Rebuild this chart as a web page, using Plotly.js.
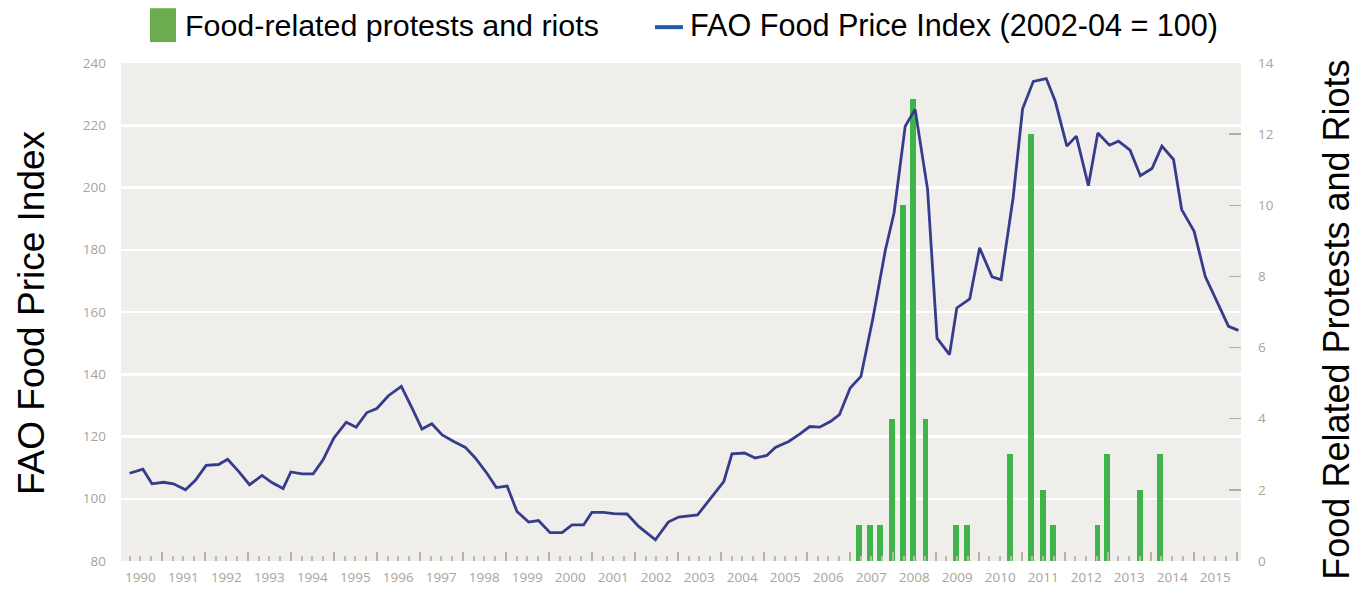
<!DOCTYPE html>
<html>
<head>
<meta charset="utf-8">
<script src="https://cdn.plot.ly/plotly-3.0.1.min.js"></script>
<style>
  html, body { margin: 0; padding: 0; background: #ffffff; }
  #chart { width: 1356px; height: 597px; }
</style>
</head>
<body>
<div id="chart"></div>
<script>
// ---- Data ----
// FAO Food Price Index (2002-04 = 100), dates as decimal years
const fpiDates = [
  1990.25, 1990.56, 1990.77, 1991.04, 1991.27, 1991.55, 1991.78, 1992.03, 1992.32, 1992.53,
  1992.79, 1993.04, 1993.33, 1993.56, 1993.82, 1994.00, 1994.26, 1994.52, 1994.75, 1995.00,
  1995.29, 1995.52, 1995.77, 1996.00, 1996.27, 1996.57, 1996.82, 1997.05, 1997.28, 1997.52,
  1997.79, 1998.06, 1998.29, 1998.56, 1998.78, 1999.03, 1999.26, 1999.53, 1999.76, 2000.03,
  2000.31, 2000.54, 2000.81, 2001.00, 2001.27, 2001.51, 2001.82, 2002.09, 2002.48, 2002.78,
  2003.02, 2003.46, 2003.74, 2004.07, 2004.26, 2004.55, 2004.80, 2005.07, 2005.27, 2005.58,
  2005.85, 2006.07, 2006.30, 2006.55, 2006.76, 2007.01, 2007.26, 2007.54, 2007.83, 2008.03,
  2008.29, 2008.52, 2008.81, 2009.03, 2009.32, 2009.49, 2009.79, 2010.02, 2010.31, 2010.52,
  2010.80, 2011.02, 2011.27, 2011.57, 2011.78, 2012.05, 2012.27, 2012.55, 2012.77, 2013.04,
  2013.25, 2013.52, 2013.76, 2014.03, 2014.26, 2014.53, 2014.72, 2015.01, 2015.27, 2015.54,
  2015.81, 2016.04
];
const fpiValues = [
  108.2, 109.5, 104.8, 105.3, 104.8, 102.9, 105.9, 110.7, 111.0, 112.7,
  108.7, 104.5, 107.5, 105.2, 103.3, 108.6, 108.0, 108.0, 112.5, 119.5,
  124.6, 123.0, 127.7, 129.0, 133.1, 136.1, 129.1, 122.4, 124.1, 120.5,
  118.4, 116.5, 113.1, 108.2, 103.6, 104.1, 95.9, 92.5, 93.0, 89.1,
  89.1, 91.6, 91.6, 95.6, 95.6, 95.2, 95.1, 91.1, 86.8, 92.5,
  94.1, 94.8, 99.7, 105.5, 114.4, 114.7, 113.1, 113.9, 116.5, 118.4,
  120.9, 123.2, 123.0, 124.8, 127.0, 135.6, 139.3, 158.1, 180.0, 191.8,
  219.7, 225.1, 199.4, 151.6, 146.3, 161.3, 164.2, 180.6, 171.3, 170.4,
  196.7, 225.3, 234.1, 235.0, 227.7, 213.3, 216.5, 200.6, 217.5, 213.6,
  214.9, 212.0, 203.8, 206.1, 213.3, 209.0, 192.9, 185.9, 171.4, 163.4,
  155.4, 154.1
];

// Food-related protests and riots (count per quarter)
const riotDates = [
  2007.22, 2007.48, 2007.71, 2007.99, 2008.24, 2008.48, 2008.76,
  2009.48, 2009.73, 2010.73, 2011.22, 2011.50, 2011.73,
  2012.76, 2012.99, 2013.76, 2014.22
];
const riotCounts = [1, 1, 1, 4, 10, 13, 4, 1, 1, 3, 12, 2, 1, 1, 3, 2, 3];

// Axis labels
const years = [1990, 1991, 1992, 1993, 1994, 1995, 1996, 1997, 1998, 1999, 2000, 2001, 2002,
               2003, 2004, 2005, 2006, 2007, 2008, 2009, 2010, 2011, 2012, 2013, 2014, 2015];
const leftTicks = [80, 100, 120, 140, 160, 180, 200, 220, 240];
const rightTicks = [0, 2, 4, 6, 8, 10, 12, 14];

const barName = 'Food-related protests and riots';
const lineName = 'FAO Food Price Index (2002-04 = 100)';
const leftTitle = 'FAO Food Price Index';
const rightTitle = 'Food Related Protests and Riots';

// ---- Styles ----
const barColor = '#3db54a';
const lineColor = '#363c8c';
const legendGreen = '#6aac4e';
const legendBlue = '#2459a6';
const tickFontColor = '#aaa39c';
const xRange = [1990.05, 2016.1];

const traces = [
  {
    type: 'bar',
    name: barName,
    x: riotDates,
    y: riotCounts,
    width: 0.135,
    marker: { color: barColor },
    xaxis: 'x',
    yaxis: 'y',
    showlegend: false,
    hoverinfo: 'x+y'
  },
  {
    type: 'scatter',
    mode: 'lines',
    name: lineName,
    x: fpiDates,
    y: fpiValues,
    line: { color: lineColor, width: 2.8 },
    xaxis: 'x2',
    yaxis: 'y2',
    showlegend: false
  }
];

const tickFont = { family: 'Open Sans, sans-serif', size: 13.5, color: tickFontColor };
const titleFamily = 'Liberation Sans, Arial, sans-serif';

const layout = {
  width: 1356,
  height: 597,
  margin: { l: 121, r: 115, t: 63, b: 36 },
  paper_bgcolor: '#ffffff',
  plot_bgcolor: '#f0eeea',
  showlegend: false,
  bargap: 0,
  xaxis: {
    range: xRange,
    tickmode: 'array',
    tickvals: years.map(y => y + 0.5),
    ticktext: years.map(String),
    ticks: '',
    ticklabelstandoff: 6,
    showgrid: false,
    zeroline: false,
    showline: false,
    tickfont: tickFont
  },
  xaxis2: {
    overlaying: 'x',
    anchor: 'y2',
    side: 'bottom',
    range: xRange,
    tickmode: 'linear',
    tick0: 1990,
    dtick: 1,
    ticks: 'inside',
    ticklen: 9,
    tickwidth: 2,
    tickcolor: '#b9b1aa',
    showticklabels: false,
    showgrid: false,
    zeroline: false,
    showline: false,
    minor: { tick0: 1990, dtick: 0.25, ticks: 'inside', ticklen: 5, tickwidth: 2, tickcolor: '#bfb8b1', showgrid: false }
  },
  yaxis: {
    side: 'right',
    range: [0, 14],
    tickmode: 'array',
    tickvals: rightTicks,
    ticks: 'inside',
    ticklen: 12,
    tickwidth: 1.5,
    tickcolor: '#b4aca5',
    ticklabelstandoff: 16,
    showgrid: false,
    zeroline: false,
    showline: false,
    tickfont: tickFont
  },
  yaxis2: {
    overlaying: 'y',
    side: 'left',
    anchor: 'x2',
    range: [80, 240],
    tickmode: 'array',
    tickvals: leftTicks,
    ticks: '',
    ticklabelstandoff: 14,
    showgrid: true,
    gridcolor: '#ffffff',
    gridwidth: 2.5,
    zeroline: false,
    showline: false,
    tickfont: tickFont
  },
  shapes: [
    { type: 'rect', xref: 'paper', yref: 'paper', x0: 0.0259, x1: 0.0491, y0: 1.042, y1: 1.110,
      fillcolor: legendGreen, line: { width: 0 } },
    { type: 'line', xref: 'paper', yref: 'paper', x0: 0.4768, x1: 0.5018, y0: 1.072, y1: 1.072,
      line: { color: legendBlue, width: 4 } }
  ],
  annotations: [
    { text: barName, xref: 'paper', yref: 'paper', x: 0.0554, y: 1.076, xanchor: 'left', yanchor: 'middle',
      showarrow: false, font: { family: titleFamily, size: 30.4, color: '#000000' } },
    { text: lineName, xref: 'paper', yref: 'paper', x: 0.5065, y: 1.076, xanchor: 'left', yanchor: 'middle',
      showarrow: false, font: { family: titleFamily, size: 30.6, color: '#000000' } },
    { text: leftTitle, xref: 'paper', yref: 'paper', x: -0.0804, y: 0.5, xanchor: 'center', yanchor: 'middle',
      textangle: -90, showarrow: false, font: { family: titleFamily, size: 37, color: '#000000' } },
    { text: rightTitle, xref: 'paper', yref: 'paper', x: 1.085, y: 0.485, xanchor: 'center', yanchor: 'middle',
      textangle: -90, showarrow: false, font: { family: titleFamily, size: 36, color: '#000000' } }
  ]
};

Plotly.newPlot('chart', traces, layout, { displayModeBar: false, staticPlot: true });
</script>
</body>
</html>
